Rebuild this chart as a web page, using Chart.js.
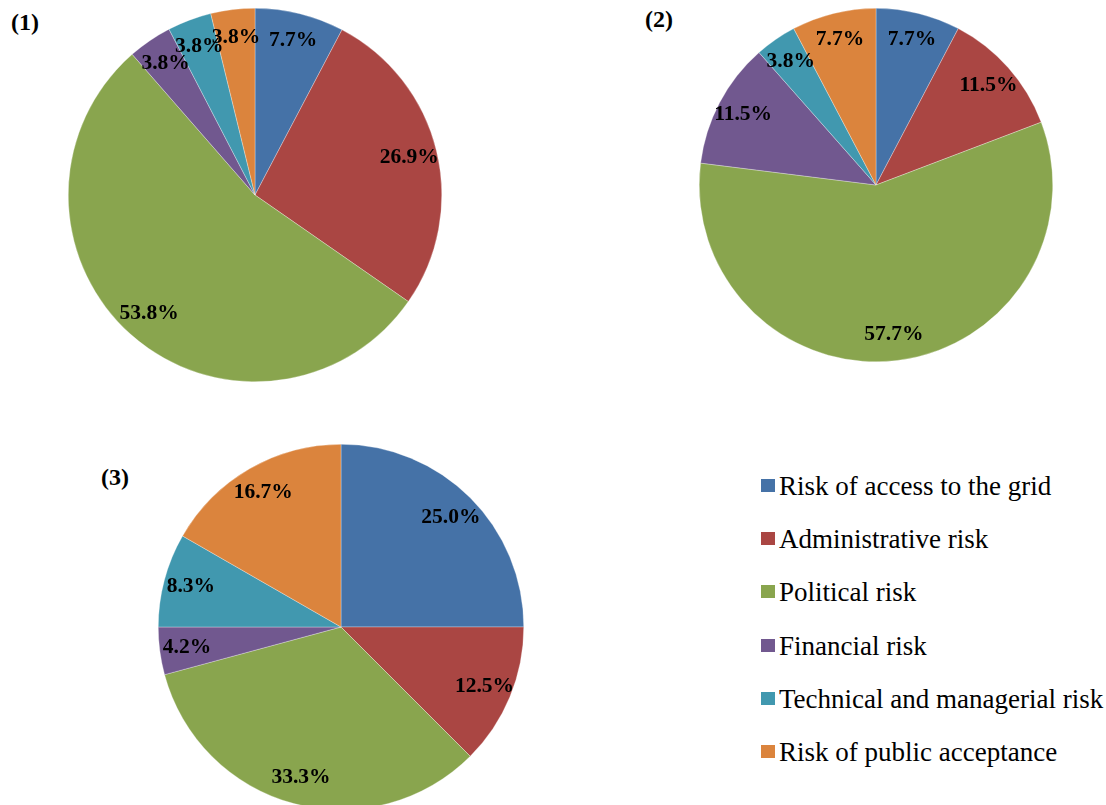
<!DOCTYPE html>
<html>
<head>
<meta charset="utf-8">
<script src="https://cdn.jsdelivr.net/npm/chart.js@4/dist/chart.umd.min.js"></script>
<style>
  html, body { margin: 0; padding: 0; background: #fff; overflow: hidden; }
  body { width: 1106px; height: 805px; position: relative; font-family: "Liberation Serif", "Times New Roman", serif; }
  .pie { position: absolute; }
  .tag { position: absolute; font-weight: bold; font-size: 24px; color: #000; }
  #legend { position: absolute; left: 761px; top: 473px; margin: 0; padding: 0; list-style: none; }
  #legend li { height: 53.2px; line-height: 27px; display: flex; align-items: flex-start; font-size: 27px; color: #000; white-space: nowrap; }
  #legend span.box { width: 14px; height: 13px; margin: 6px 4px 0 0; display: inline-block; flex: none; }
</style>
</head>
<body>
<div class="tag" style="left:11px; top:9px;">(1)</div>
<div class="tag" style="left:645px; top:6px;">(2)</div>
<div class="tag" style="left:101px; top:464px;">(3)</div>

<div class="pie" style="left:68px; top:8px; width:374px; height:374px;"><canvas id="pie1"></canvas></div>
<div class="pie" style="left:699px; top:8px; width:354px; height:354px;"><canvas id="pie2"></canvas></div>
<div class="pie" style="left:158px; top:444px; width:366px; height:366px;"><canvas id="pie3"></canvas></div>

<ul id="legend"></ul>

<script>
// risk categories and their share (%) in each survey group
const categories = [
  'Risk of access to the grid',
  'Administrative risk',
  'Political risk',
  'Financial risk',
  'Technical and managerial risk',
  'Risk of public acceptance'
];
const group1 = [7.7, 26.9, 53.8, 3.8, 3.8, 3.8];
const group2 = [7.7, 11.5, 57.7, 11.5, 3.8, 7.7];
const group3 = [25.0, 12.5, 33.3, 4.2, 8.3, 16.7];
const colors = ['#4572A7', '#AA4643', '#89A54E', '#71588F', '#4198AF', '#DB843D'];

// percentage labels placed inside each slice
const sliceLabels = {
  id: 'sliceLabels',
  afterDatasetsDraw(chart) {
    const ctx = chart.ctx;
    const ds = chart.data.datasets[0];
    ctx.save();
    ctx.font = 'bold 21.5px "Liberation Serif", "Times New Roman", serif';
    ctx.fillStyle = '#000';
    ctx.textAlign = 'center';
    ctx.textBaseline = 'middle';
    chart.getDatasetMeta(0).data.forEach((arc, i) => {
      const p = arc.getProps(['x', 'y', 'startAngle', 'endAngle', 'outerRadius'], true);
      const mid = (p.startAngle + p.endAngle) / 2;
      const r = p.outerRadius * 0.85;
      ctx.fillText(ds.data[i].toFixed(1) + '%', p.x + Math.cos(mid) * r, p.y + Math.sin(mid) * r);
    });
    ctx.restore();
  }
};

function makePie(id, values) {
  new Chart(document.getElementById(id), {
    type: 'pie',
    data: {
      labels: categories,
      datasets: [{
        data: values,
        backgroundColor: colors,
        borderColor: 'rgba(255,255,255,0.6)',
        borderWidth: 0.5
      }]
    },
    options: {
      responsive: true,
      maintainAspectRatio: false,
      animation: false,
      layout: { padding: 0 },
      plugins: {
        legend: { display: false },
        tooltip: { enabled: false }
      }
    },
    plugins: [sliceLabels]
  });
}

makePie('pie1', group1);
makePie('pie2', group2);
makePie('pie3', group3);

// shared legend
const legend = document.getElementById('legend');
categories.forEach((name, i) => {
  const li = document.createElement('li');
  const box = document.createElement('span');
  box.className = 'box';
  box.style.background = colors[i];
  li.appendChild(box);
  li.appendChild(document.createTextNode(name));
  legend.appendChild(li);
});
</script>
</body>
</html>
